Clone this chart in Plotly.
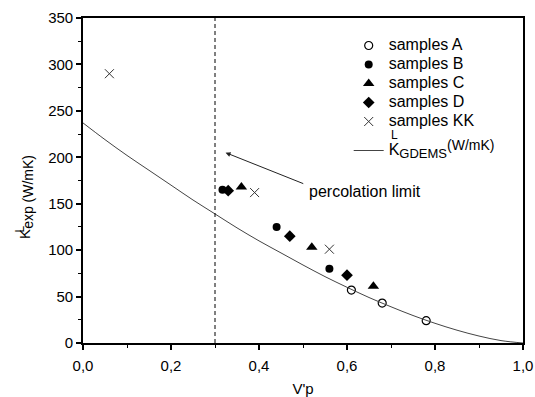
import plotly.graph_objects as go

# ---- data ----
a_x = [0.61, 0.68, 0.78]
a_y = [57, 43, 24]
b_x = [0.317, 0.44, 0.56]
b_y = [165, 125, 80]
c_x = [0.36, 0.52, 0.66]
c_y = [168, 103, 61]
d_x = [0.33, 0.47, 0.60]
d_y = [164, 115, 73]
kk_x = [0.06, 0.39, 0.56]
kk_y = [290, 162, 101]
curve_x = [0.0, 0.05, 0.1, 0.15, 0.2, 0.25, 0.3, 0.35, 0.4, 0.45, 0.5,
           0.55, 0.6, 0.65, 0.7, 0.75, 0.8, 0.85, 0.9, 0.95, 1.0]
curve_y = [237, 219, 202, 186, 170, 154, 139, 124, 110, 97, 84,
           71.5, 60, 49, 39, 29.6, 21.2, 13.8, 7.5, 2.6, 0]
perc_limit = 0.3
x_ticks = [0.0, 0.2, 0.4, 0.6, 0.8, 1.0]
x_ticktext = ["0,0", "0,2", "0,4", "0,6", "0,8", "1,0"]
y_ticks = [0, 50, 100, 150, 200, 250, 300, 350]

FONT = "Liberation Sans, Arial, sans-serif"
FS = 15


def big(t, size=16):
    return f"<span style='font-size:{size}px'>{t}</span>"


fig = go.Figure()
fig.add_trace(go.Scatter(x=a_x, y=a_y, mode="markers", name=big("samples A"),
                         legendgroup="s",
                         marker=dict(symbol="circle-open", size=8, color="black",
                                     line=dict(width=1.2, color="black"))))
fig.add_trace(go.Scatter(x=b_x, y=b_y, mode="markers", name=big("samples B"),
                         legendgroup="s",
                         marker=dict(symbol="circle", size=8, color="black")))
fig.add_trace(go.Scatter(x=c_x, y=c_y, mode="markers", name=big("samples C"),
                         legendgroup="s",
                         marker=dict(symbol="triangle-up", size=10, color="black")))
fig.add_trace(go.Scatter(x=d_x, y=d_y, mode="markers", name=big("samples D"),
                         legendgroup="s",
                         marker=dict(symbol="diamond", size=9, color="black")))
fig.add_trace(go.Scatter(x=kk_x, y=kk_y, mode="markers", name=big("samples KK"),
                         legendgroup="s",
                         marker=dict(symbol="x-thin-open", size=9, color="#333",
                                     line=dict(width=1, color="#333"))))
fig.add_trace(go.Scatter(x=curve_x, y=curve_y, mode="lines",
                         name=big("K") + "<sub>" + big("GDEMS", 13) + "</sub>"
                              "<sup>" + big("(W/mK)", 14) + "</sup>",
                         legendgroup="m",
                         line=dict(color="#444", width=1, shape="spline")))

fig.add_shape(type="line", x0=perc_limit, x1=perc_limit, y0=0, y1=350,
              xref="x", yref="y", line=dict(color="black", width=1, dash="4px,3px"))

# percolation arrow + label
fig.add_annotation(x=0.324, y=205, ax=0.504, ay=171, xref="x", yref="y",
                   axref="x", ayref="y", text="", showarrow=True,
                   arrowhead=2, arrowsize=1, arrowwidth=1, arrowcolor="#222")
fig.add_annotation(x=0.64, y=163, xref="x", yref="y", text="percolation limit",
                   showarrow=False, font=dict(size=16, color="black", family=FONT))

# y-axis title built from annotations
fig.add_annotation(x=-0.13, y=0.449, xref="paper", yref="paper",
                   text="K<sub>" + big("exp (W/mK)", 14) + "</sub>",
                   textangle=-90, showarrow=False,
                   xanchor="center", yanchor="middle",
                   font=dict(size=FS, color="black", family=FONT))
fig.add_annotation(x=-0.1427, y=0.350, xref="paper", yref="paper",
                   text="L", textangle=-90, showarrow=False,
                   xanchor="center", yanchor="middle",
                   font=dict(size=12, color="black", family=FONT))
# superscript L in legend
fig.add_annotation(x=(395 - 83.3) / 440, y=(342.7 - 135) / 324.7,
                   xref="paper", yref="paper",
                   text="L", showarrow=False, xanchor="center", yanchor="middle",
                   font=dict(size=12, color="black", family=FONT))
# title (cut at the top)
fig.add_annotation(x=0.429, y=1.08, xref="paper", yref="paper",
                   text="(c)", showarrow=False, xanchor="center", yanchor="middle",
                   font=dict(size=17, color="black", family=FONT))

axis_common = dict(showline=True, linewidth=1.6, linecolor="black", mirror=True,
                   ticks="outside", ticklen=5, tickwidth=1.5, tickcolor="black",
                   showgrid=False, zeroline=False,
                   tickfont=dict(size=FS, color="black", family=FONT))

fig.update_layout(
    width=535, height=397,
    margin=dict(l=83, r=12, t=18, b=54, autoexpand=False),
    paper_bgcolor="white", plot_bgcolor="white",
    font=dict(family=FONT, size=FS, color="black"),
    showlegend=True,
    legend=dict(x=(349 - 83.3) / 440, y=0.960,
                xanchor="left", yanchor="top",
                bgcolor="rgba(0,0,0,0)", borderwidth=0,
                font=dict(size=12, color="black", family=FONT),
                tracegroupgap=10),
    xaxis=dict(range=[0, 1], tickvals=x_ticks, ticktext=x_ticktext,
               ticklabelstandoff=3,
               minor=dict(ticks="outside", ticklen=3, tickwidth=1.2,
                          tickcolor="black", dtick=0.1),
               title=dict(text="V'p", standoff=20,
                          font=dict(size=FS, color="black", family=FONT)),
               **axis_common),
    yaxis=dict(range=[0, 350], tickvals=y_ticks,
               minor=dict(ticks="outside", ticklen=3, tickwidth=1.2,
                          tickcolor="black", dtick=25),
               **axis_common),
)

fig.write_html("out.html", config={"displayModeBar": False},
               post_script="document.body.style.margin='0';"
                           "document.body.style.overflow='hidden';")
